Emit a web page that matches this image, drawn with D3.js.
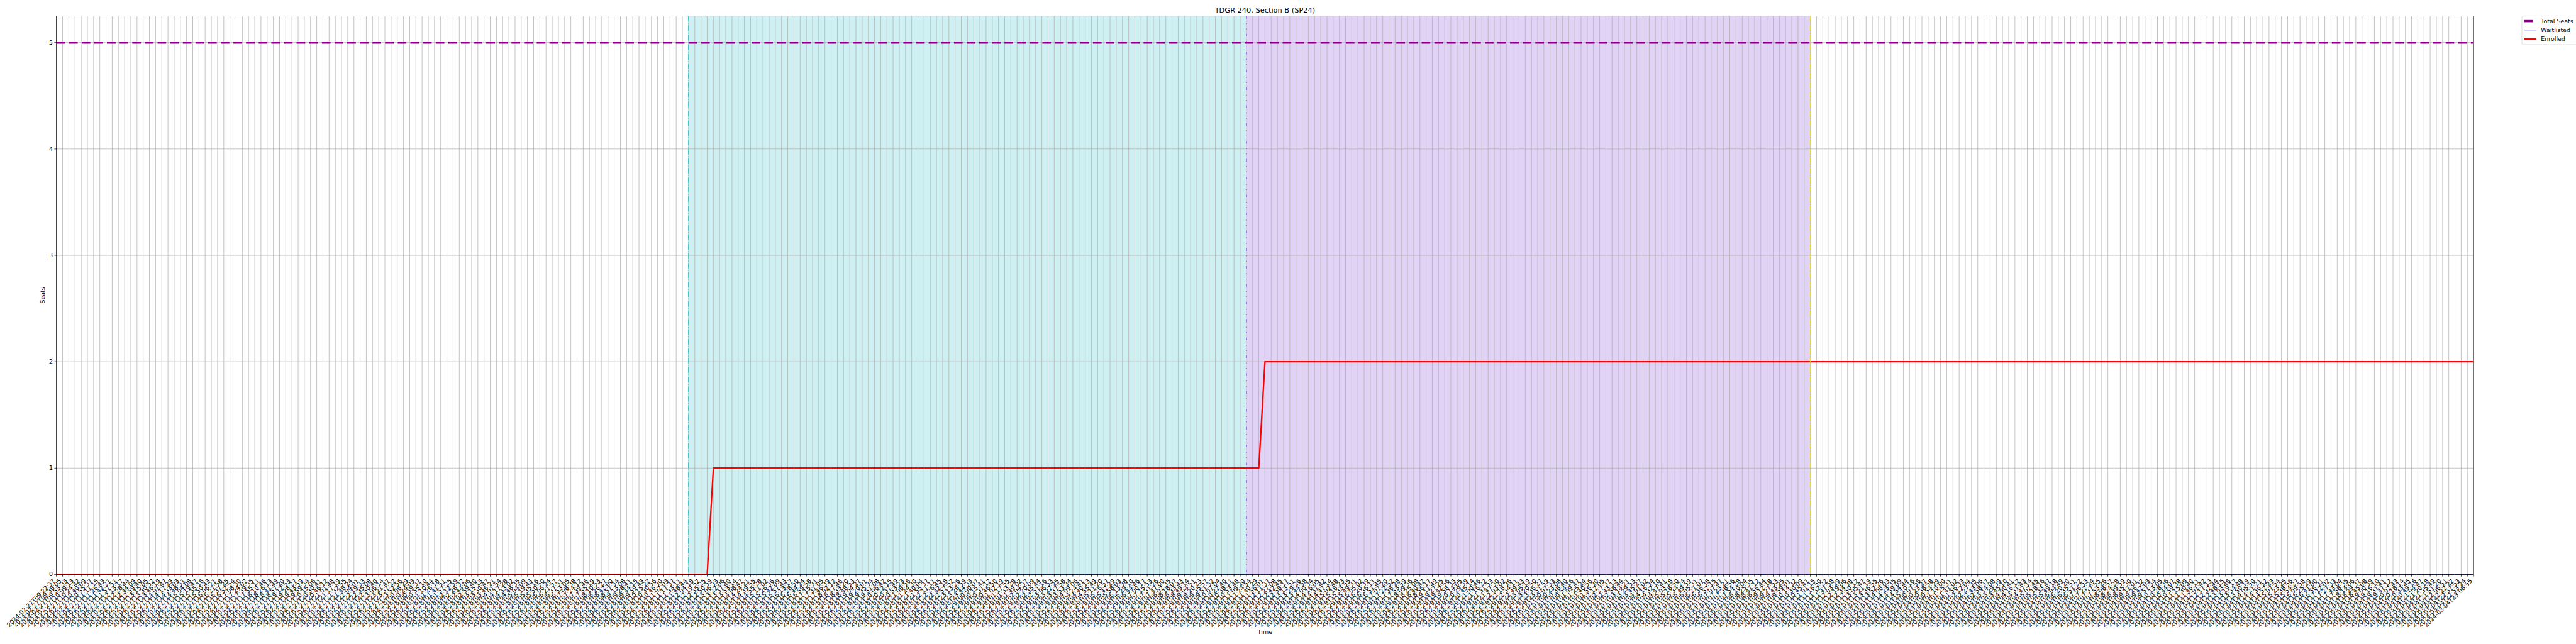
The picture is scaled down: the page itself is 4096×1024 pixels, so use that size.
<!DOCTYPE html>
<html>
<head>
<meta charset="utf-8">
<script src="https://cdn.jsdelivr.net/npm/d3@7"></script>
<style>
html, body { margin: 0; padding: 0; background: #ffffff; }
svg { display: block; font-family: "DejaVu Sans", sans-serif; }
</style>
</head>
<body>
<svg id="chart" width="4096" height="1024"></svg>
<script>
// ---------------- DATA ----------------
const chartTitle = "TDGR 240, Section B (SP24)";
const xAxisTitle = "Time";
const yAxisTitle = "Seats";
const yTickValues = [0, 1, 2, 3, 4, 5];
const seriesNames = ["Total Seats", "Waitlisted", "Enrolled"];

// Time stamps of each snapshot (tick labels), grouped by day
const feb27Times = [
"09:22:37","09:38:05","09:53:33","10:09:13","10:24:42","10:40:09","10:55:37","11:11:15","11:26:43","11:42:21",
"11:57:51","12:13:17","12:28:44","12:44:09","12:59:40","13:15:05","13:30:52","13:46:19","14:01:47","14:17:29",
"14:33:03","14:48:31","15:04:08","15:19:47","15:35:16","15:50:43","16:06:21","16:21:58","16:37:25","16:52:54",
"17:08:30","17:24:02","17:39:35","17:55:11","18:10:46","18:26:13","18:41:49","18:57:20","19:12:53","19:28:27",
"19:43:59","19:59:34","20:15:06","20:30:41","20:46:12","21:01:48","21:17:19","21:32:55","21:48:24","22:04:01",
"22:19:33","22:35:08","22:50:40","23:06:14","23:21:47","23:37:22","23:52:56"];
const feb28Times = [
"00:08:29","00:24:03","00:39:37","00:55:10","01:10:44","01:26:18","01:41:51","01:57:25","02:12:59","02:28:32",
"02:44:06","02:59:40","03:15:13","03:30:47","03:46:21","04:01:54","04:17:28","04:33:02","04:48:35","05:04:09",
"05:19:43","05:35:16","05:50:50","06:06:24","06:21:57","06:37:31","06:53:05","07:08:38","07:24:12","07:39:46",
"07:55:19","08:10:53","08:26:27","08:42:00","08:57:34","09:13:08","09:28:41","09:44:15","09:59:49","10:15:22",
"10:30:56","10:46:30","11:02:03","11:17:37","11:33:11","11:48:44","12:04:18","12:19:52","12:35:25","12:50:59",
"13:06:33","13:22:06","13:37:40","13:53:14","14:08:47","14:24:21","14:39:55","14:55:28","15:11:02","15:26:36",
"15:42:09","15:57:43","16:13:17","16:28:50","16:44:24","16:59:58","17:15:31","17:31:05","17:46:39","18:02:12",
"18:17:46","18:33:20","18:48:53","19:04:27","19:20:01","19:35:34","19:51:08","20:06:42","20:22:15","20:37:49",
"20:53:23","21:08:56","21:24:30","21:40:04","21:55:37","22:11:11","22:26:45","22:42:18","22:57:52","23:13:26",
"23:28:59","23:44:33"];
const feb29Times = [
"00:00:07","00:15:41","00:31:12","00:46:50","01:02:19","01:17:55","01:33:28","01:49:02","02:04:37","02:20:09",
"02:35:44","02:51:16","03:06:53","03:22:25","03:37:58","03:53:34","04:09:06","04:24:41","04:40:13","04:55:49",
"05:11:20","05:26:57","05:42:29","05:58:03","06:13:38","06:29:10","06:44:46","07:00:17","07:15:53","07:31:26",
"07:47:00","08:02:35","08:18:07","08:33:43","08:49:14","09:04:51","09:20:23","09:35:57","09:51:32","10:07:04",
"10:22:40","10:38:11","10:53:48","11:09:20","11:24:54","11:40:29","11:56:01","12:11:37","12:27:08","12:42:45",
"12:58:17","13:13:51","13:29:26","13:44:58","14:00:34","14:16:05","14:31:42","14:47:14","15:02:48","15:18:23",
"15:33:55","15:49:31","16:05:02","16:20:39","16:36:11","16:51:45","17:07:20","17:22:52","17:38:28","17:53:59",
"18:09:36","18:25:08","18:40:42","18:56:17","19:11:49","19:27:25","19:42:56","19:58:33","20:14:05","20:29:39",
"20:45:14","21:00:46","21:16:22","21:31:53","21:47:30","22:03:02","22:18:36","22:34:11","22:49:43","23:05:19",
"23:20:50","23:36:27","23:51:59"];
const mar01Times = [
"00:07:33","00:23:08","00:38:40","00:54:16","01:09:47","01:25:24","01:40:56","01:56:30","02:12:05","02:27:37",
"02:43:13","02:58:44","03:14:21","03:29:53","03:45:27","04:01:02","04:16:34","04:32:10","04:47:41","05:03:18",
"05:18:50","05:34:24","05:49:59","06:05:31","06:21:07","06:36:38","06:52:15","07:07:47","07:23:21","07:38:56",
"07:54:28","08:10:04","08:25:35","08:41:12","08:56:44","09:12:18","09:27:53","09:43:25","09:59:01","10:14:32",
"10:30:09","10:45:41","11:01:15","11:16:50","11:32:22","11:47:58","12:03:29","12:19:06","12:34:38","12:50:12",
"13:05:47","13:21:19","13:36:55","13:52:26","14:08:03","14:23:35","14:39:09","14:54:44","15:10:16"];
const mar04Times = [
"00:07:56","00:23:27","00:38:58","00:54:29","01:10:00","01:25:31","01:41:02","01:56:33","02:12:04","02:27:35",
"02:43:06","02:58:37","03:14:08","03:29:39","03:45:10","04:00:41","04:16:12","04:31:43","04:47:14","05:02:45",
"05:18:16","05:33:47","05:49:18","06:04:49","06:20:20","06:35:51","06:51:22","07:06:53","07:22:24","07:37:55",
"07:53:26","08:08:57","08:24:28","08:39:59","08:55:30","09:11:01","09:26:32","09:42:03","09:57:34","10:13:05",
"10:28:36","10:44:07","10:59:38","11:15:09","11:30:40","11:46:11","12:01:42","12:17:13","12:32:44","12:48:15",
"13:03:46","13:19:17","13:34:48","13:50:19","14:05:50","14:21:21","14:36:52","14:52:23","15:07:54","15:23:25",
"15:38:56","15:54:27","16:09:58","16:25:29","16:41:00","16:56:31","17:12:02","17:27:33","17:43:04","17:58:35",
"18:14:06","18:29:37","18:45:08","19:00:39","19:16:10","19:31:41","19:47:12","20:02:43","20:18:14","20:33:45",
"20:49:16","21:04:47","21:20:18","21:35:49","21:51:20","22:06:51","22:22:22","22:37:53","22:53:24","23:08:55"];

const timeLabels = [
  ...feb27Times.map(t => "2024-02-27T" + t),
  ...feb28Times.map(t => "2024-02-28T" + t),
  ...feb29Times.map(t => "2024-02-29T" + t),
  ...mar01Times.map(t => "2024-03-01T" + t),
  ...mar04Times.map(t => "2024-03-04T" + t)
];

const totalSeats = [
5,5,5,5,5,5,5,5,5,5,5,5,5,5,5,5,5,5,5,5,
5,5,5,5,5,5,5,5,5,5,5,5,5,5,5,5,5,5,5,5,
5,5,5,5,5,5,5,5,5,5,5,5,5,5,5,5,5,5,5,5,
5,5,5,5,5,5,5,5,5,5,5,5,5,5,5,5,5,5,5,5,
5,5,5,5,5,5,5,5,5,5,5,5,5,5,5,5,5,5,5,5,
5,5,5,5,5,5,5,5,5,5,5,5,5,5,5,5,5,5,5,5,
5,5,5,5,5,5,5,5,5,5,5,5,5,5,5,5,5,5,5,5,
5,5,5,5,5,5,5,5,5,5,5,5,5,5,5,5,5,5,5,5,
5,5,5,5,5,5,5,5,5,5,5,5,5,5,5,5,5,5,5,5,
5,5,5,5,5,5,5,5,5,5,5,5,5,5,5,5,5,5,5,5,
5,5,5,5,5,5,5,5,5,5,5,5,5,5,5,5,5,5,5,5,
5,5,5,5,5,5,5,5,5,5,5,5,5,5,5,5,5,5,5,5,
5,5,5,5,5,5,5,5,5,5,5,5,5,5,5,5,5,5,5,5,
5,5,5,5,5,5,5,5,5,5,5,5,5,5,5,5,5,5,5,5,
5,5,5,5,5,5,5,5,5,5,5,5,5,5,5,5,5,5,5,5,
5,5,5,5,5,5,5,5,5,5,5,5,5,5,5,5,5,5,5,5,
5,5,5,5,5,5,5,5,5,5,5,5,5,5,5,5,5,5,5,5,
5,5,5,5,5,5,5,5,5,5,5,5,5,5,5,5,5,5,5,5,
5,5,5,5,5,5,5,5,5,5,5,5,5,5,5,5,5,5,5,5,
5,5,5,5,5,5,5,5,5,5,5];

const waitlisted = [
0,0,0,0,0,0,0,0,0,0,0,0,0,0,0,0,0,0,0,0,
0,0,0,0,0,0,0,0,0,0,0,0,0,0,0,0,0,0,0,0,
0,0,0,0,0,0,0,0,0,0,0,0,0,0,0,0,0,0,0,0,
0,0,0,0,0,0,0,0,0,0,0,0,0,0,0,0,0,0,0,0,
0,0,0,0,0,0,0,0,0,0,0,0,0,0,0,0,0,0,0,0,
0,0,0,0,0,0,0,0,0,0,0,0,0,0,0,0,0,0,0,0,
0,0,0,0,0,0,0,0,0,0,0,0,0,0,0,0,0,0,0,0,
0,0,0,0,0,0,0,0,0,0,0,0,0,0,0,0,0,0,0,0,
0,0,0,0,0,0,0,0,0,0,0,0,0,0,0,0,0,0,0,0,
0,0,0,0,0,0,0,0,0,0,0,0,0,0,0,0,0,0,0,0,
0,0,0,0,0,0,0,0,0,0,0,0,0,0,0,0,0,0,0,0,
0,0,0,0,0,0,0,0,0,0,0,0,0,0,0,0,0,0,0,0,
0,0,0,0,0,0,0,0,0,0,0,0,0,0,0,0,0,0,0,0,
0,0,0,0,0,0,0,0,0,0,0,0,0,0,0,0,0,0,0,0,
0,0,0,0,0,0,0,0,0,0,0,0,0,0,0,0,0,0,0,0,
0,0,0,0,0,0,0,0,0,0,0,0,0,0,0,0,0,0,0,0,
0,0,0,0,0,0,0,0,0,0,0,0,0,0,0,0,0,0,0,0,
0,0,0,0,0,0,0,0,0,0,0,0,0,0,0,0,0,0,0,0,
0,0,0,0,0,0,0,0,0,0,0,0,0,0,0,0,0,0,0,0,
0,0,0,0,0,0,0,0,0,0,0];

const enrolled = [
0,0,0,0,0,0,0,0,0,0,0,0,0,0,0,0,0,0,0,0,
0,0,0,0,0,0,0,0,0,0,0,0,0,0,0,0,0,0,0,0,
0,0,0,0,0,0,0,0,0,0,0,0,0,0,0,0,0,0,0,0,
0,0,0,0,0,0,0,0,0,0,0,0,0,0,0,0,0,0,0,0,
0,0,0,0,0,0,0,0,0,0,0,0,0,0,0,0,0,0,0,0,
0,0,0,0,0,0,1,1,1,1,1,1,1,1,1,1,1,1,1,1,
1,1,1,1,1,1,1,1,1,1,1,1,1,1,1,1,1,1,1,1,
1,1,1,1,1,1,1,1,1,1,1,1,1,1,1,1,1,1,1,1,
1,1,1,1,1,1,1,1,1,1,1,1,1,1,1,1,1,1,1,1,
1,1,1,1,1,1,1,1,1,1,1,1,1,1,1,2,2,2,2,2,
2,2,2,2,2,2,2,2,2,2,2,2,2,2,2,2,2,2,2,2,
2,2,2,2,2,2,2,2,2,2,2,2,2,2,2,2,2,2,2,2,
2,2,2,2,2,2,2,2,2,2,2,2,2,2,2,2,2,2,2,2,
2,2,2,2,2,2,2,2,2,2,2,2,2,2,2,2,2,2,2,2,
2,2,2,2,2,2,2,2,2,2,2,2,2,2,2,2,2,2,2,2,
2,2,2,2,2,2,2,2,2,2,2,2,2,2,2,2,2,2,2,2,
2,2,2,2,2,2,2,2,2,2,2,2,2,2,2,2,2,2,2,2,
2,2,2,2,2,2,2,2,2,2,2,2,2,2,2,2,2,2,2,2,
2,2,2,2,2,2,2,2,2,2,2,2,2,2,2,2,2,2,2,2,
2,2,2,2,2,2,2,2,2,2,2];

// Registration phases (shaded spans) and phase-boundary markers
const phaseStarts = ["2024-02-28T11:48:44", "2024-02-29T11:09:20"];
const phaseEnds   = ["2024-02-29T11:09:20", "2024-03-01T10:45:41"];
const phaseMarkers = ["2024-02-28T11:48:44", "2024-02-29T11:09:20", "2024-03-01T10:45:41"];

// ---------------- STYLE / LAYOUT ----------------
const W = 4096, H = 1024;
const plot = { left: 89.7, right: 3933.1, top: 25.4, bottom: 913.4 };
const FONT = "DejaVu Sans";
const tickFont = 9.47;
const phaseFill = ["#cef0f2", "#e0d3f5"];
const markerColor = ["#17becf", "#6a2bd9", "#e2dc3a"];
const markerDash = ["9.1,2.3,1.4,2.3", "4.3,7.1,1.4,7.1,1.4,7.1", "9.1,2.3,1.4,2.3"];
const seriesStyle = [
  { color: "#800080", width: 3.6, dash: "13.8,6.3" },
  { color: "#0000ff", width: 0.95, dash: null },
  { color: "#ff0000", width: 2.3, dash: null }
];

if (timeLabels.length !== totalSeats.length || timeLabels.length !== enrolled.length || timeLabels.length !== waitlisted.length) {
  console.error("length mismatch", timeLabels.length, totalSeats.length, waitlisted.length, enrolled.length);
}

const svg = d3.select("#chart");
svg.append("rect").attr("width", W).attr("height", H).attr("fill", "#ffffff");

const x = d3.scalePoint().domain(timeLabels).range([plot.left, plot.right]).padding(0);
const y = d3.scaleLinear().domain([0, 5.25]).range([plot.bottom, plot.top]);

svg.append("clipPath").attr("id", "plotclip")
  .append("rect").attr("x", plot.left).attr("y", plot.top)
  .attr("width", plot.right - plot.left).attr("height", plot.bottom - plot.top);

// shaded phases
svg.append("g").selectAll("rect").data(phaseStarts).join("rect")
  .attr("x", d => x(d))
  .attr("y", plot.top)
  .attr("width", (d, i) => x(phaseEnds[i]) - x(d))
  .attr("height", plot.bottom - plot.top)
  .attr("fill", (d, i) => phaseFill[i]);

// grid
const grid = svg.append("g").attr("stroke", "#b0b0b0").attr("stroke-width", 0.76);
grid.selectAll("line.v").data(timeLabels).join("line").attr("class", "v")
  .attr("x1", d => x(d)).attr("x2", d => x(d))
  .attr("y1", plot.top).attr("y2", plot.bottom);
grid.selectAll("line.h").data(yTickValues).join("line").attr("class", "h")
  .attr("x1", plot.left).attr("x2", plot.right)
  .attr("y1", d => y(d)).attr("y2", d => y(d));

// series
const seriesData = [totalSeats, waitlisted, enrolled];
const line = d3.line().x((d, i) => x(timeLabels[i])).y(d => y(d));
const lines = svg.append("g").attr("clip-path", "url(#plotclip)");
seriesData.forEach((vals, k) => {
  lines.append("path").datum(vals)
    .attr("d", line)
    .attr("fill", "none")
    .attr("stroke", seriesStyle[k].color)
    .attr("stroke-width", seriesStyle[k].width)
    .attr("stroke-dasharray", seriesStyle[k].dash)
    .attr("stroke-linejoin", "round");
});

// phase marker lines
svg.append("g").selectAll("line").data(phaseMarkers).join("line")
  .attr("x1", d => x(d)).attr("x2", d => x(d))
  .attr("y1", plot.top).attr("y2", plot.bottom)
  .attr("stroke", (d, i) => markerColor[i])
  .attr("stroke-width", 1.3)
  .attr("stroke-dasharray", (d, i) => markerDash[i]);

// frame
svg.append("rect").attr("x", plot.left).attr("y", plot.top)
  .attr("width", plot.right - plot.left).attr("height", plot.bottom - plot.top)
  .attr("fill", "none").attr("stroke", "#000").attr("stroke-width", 0.76);

// x axis
const gx = svg.append("g").attr("transform", `translate(0,${plot.bottom})`)
  .call(d3.axisBottom(x).tickSize(3.3).tickPadding(2.4).offset(0));
gx.attr("font-family", null).attr("font-size", null);
gx.select(".domain").remove();
gx.selectAll(".tick line").attr("stroke", "#000").attr("stroke-width", 0.76);
gx.selectAll(".tick text")
  .attr("y", null).attr("dy", null)
  .attr("text-anchor", "end")
  .attr("transform", `translate(-1.6,${3.3 + 2.4 + 5.4}) rotate(-45)`)
  .attr("font-family", FONT).attr("font-size", tickFont).attr("fill", "#000");

// y axis
const gy = svg.append("g").attr("transform", `translate(${plot.left},0)`)
  .call(d3.axisLeft(y).tickValues(yTickValues).tickFormat(d3.format("d"))
    .tickSize(3.3).tickPadding(2.4).offset(0));
gy.attr("font-family", null).attr("font-size", null);
gy.select(".domain").remove();
gy.selectAll(".tick line").attr("stroke", "#000").attr("stroke-width", 0.76);
gy.selectAll(".tick text").attr("font-family", FONT).attr("font-size", tickFont).attr("fill", "#000");

// titles
svg.append("text").attr("x", (plot.left + plot.right) / 2).attr("y", 19.8)
  .attr("text-anchor", "middle").attr("font-family", FONT).attr("font-size", 11.37)
  .text(chartTitle);
svg.append("text").attr("x", (plot.left + plot.right) / 2).attr("y", 1008)
  .attr("text-anchor", "middle").attr("font-family", FONT).attr("font-size", tickFont)
  .text(xAxisTitle);
svg.append("text")
  .attr("transform", `translate(71,${(plot.top + plot.bottom) / 2}) rotate(-90)`)
  .attr("text-anchor", "middle").attr("font-family", FONT).attr("font-size", tickFont)
  .text(yAxisTitle);

// legend
const lg = svg.append("g").attr("transform", "translate(4010,25.4)");
lg.append("rect").attr("x", 0).attr("y", 0).attr("width", 130).attr("height", 45.6)
  .attr("rx", 2.7).attr("fill", "#ffffff").attr("fill-opacity", 0.8)
  .attr("stroke", "#cccccc").attr("stroke-width", 0.7);
const rowsY = [8.2, 22.3, 36.5];
seriesNames.forEach((name, k) => {
  lg.append("line").attr("x1", 3.6).attr("x2", 22.7)
    .attr("y1", rowsY[k]).attr("y2", rowsY[k])
    .attr("stroke", seriesStyle[k].color).attr("stroke-width", seriesStyle[k].width)
    .attr("stroke-dasharray", seriesStyle[k].dash);
  lg.append("text").attr("x", 30.3).attr("y", rowsY[k]).attr("dy", "0.35em")
    .attr("font-family", FONT).attr("font-size", tickFont).attr("fill", "#000")
    .text(name);
});
</script>
</body>
</html>
